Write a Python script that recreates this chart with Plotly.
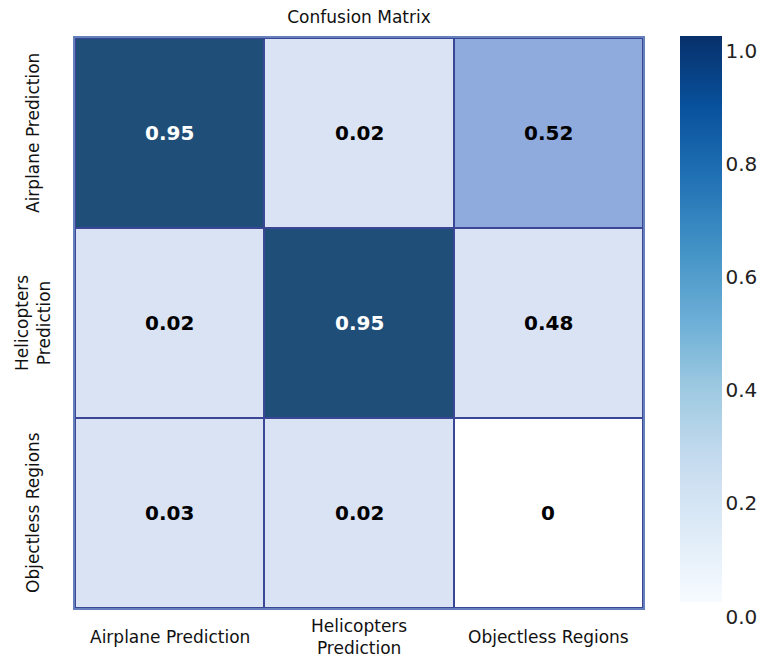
import plotly.graph_objects as go

# Class labels (columns = true class, rows = predicted class)
x_labels = ["Airplane Prediction", "Helicopters<br>Prediction", "Objectless Regions"]
y_labels = ["Airplane Prediction", "Helicopters<br>Prediction", "Objectless Regions"]

# Confusion matrix values, row by row (top row first)
row_airplane = [0.95, 0.02, 0.52]
row_helicopter = [0.02, 0.95, 0.48]
row_objectless = [0.03, 0.02, 0.0]
matrix = [row_airplane, row_helicopter, row_objectless]

# Cell fill scale: white for zero, light / medium / dark blue bands
cell_scale = [
    [0.0, "#FFFFFF"], [0.005, "#FFFFFF"],
    [0.005, "#DAE3F3"], [0.5, "#DAE3F3"],
    [0.5, "#8FAADC"], [0.9, "#8FAADC"],
    [0.9, "#1F4E79"], [1.0, "#1F4E79"],
]

inner_border = "#3A4797"
outer_border = "#6680BC"
font_family = "DejaVu Sans, Verdana, sans-serif"
label_color = "#111111"

# Plot area geometry in pixels
L, R, T, B = 75, 643, 38, 608
W, H = 774, 658
plot_h = B - T
plot_w = R - L

fig = go.Figure()

fig.add_trace(go.Heatmap(
    z=matrix, x=x_labels, y=y_labels,
    zmin=0, zmax=1, colorscale=cell_scale,
    xgap=2, ygap=2, showscale=False, hoverinfo="skip",
))

# Colour bar trace (Blues scale)
fig.add_trace(go.Heatmap(
    z=[[0, 1]], x=x_labels[:2], y=y_labels[:1],
    zmin=0, zmax=1, colorscale="Blues", opacity=0, hoverinfo="skip",
    colorbar=dict(
        x=(680 - L) / plot_w, xanchor="left",
        y=1 + 2 / plot_h, yanchor="top", len=566 / plot_h,
        thickness=42, outlinewidth=0, tick0=0, dtick=0.2, tickformat=".1f",
        ticks="outside", ticklen=28, tickcolor="rgba(0,0,0,0)",
        ticklabelposition="outside bottom",
        tickfont=dict(size=20, color="#222222", family=font_family),
        xpad=0, ypad=0,
    ),
))

# Value labels on the cells
for ylab, row in zip(y_labels, matrix):
    for xlab, v in zip(x_labels, row):
        fig.add_annotation(
            x=xlab, y=ylab, text=f"<b>{v:g}</b>", showarrow=False,
            font=dict(size=20, family=font_family,
                      color="white" if v > 0.9 else "black"),
        )

# Category labels, vertically centred under / beside each cell
for lab in x_labels:
    fig.add_annotation(
        x=lab, xref="x", y=-(637 - B) / plot_h, yref="paper",
        text=lab, showarrow=False, xanchor="center", yanchor="middle",
        font=dict(size=17, color=label_color, family=font_family),
    )
for lab in y_labels:
    fig.add_annotation(
        y=lab, yref="y", x=-(L - 33) / plot_w, xref="paper",
        text=lab, showarrow=False, textangle=-90,
        xanchor="center", yanchor="middle",
        font=dict(size=17, color=label_color, family=font_family),
    )

fig.update_layout(
    width=W, height=H,
    margin=dict(l=L, r=W - R, t=T, b=H - B),
    paper_bgcolor="white", plot_bgcolor=inner_border,
    title=dict(text="Confusion Matrix", x=(L + R) / 2 / W, xanchor="center",
               y=1 - 17 / H, yanchor="middle",
               font=dict(size=17, color=label_color, family=font_family)),
    font=dict(family=font_family),
)
fig.update_xaxes(
    showgrid=False, zeroline=False, ticks="", automargin=False, showticklabels=False,
    showline=True, linecolor=outer_border, linewidth=2, mirror=True,
)
fig.update_yaxes(
    showgrid=False, zeroline=False, ticks="", autorange="reversed", automargin=False,
    showticklabels=False,
    showline=True, linecolor=outer_border, linewidth=2, mirror=True,
)

fig.write_html("out.html")
